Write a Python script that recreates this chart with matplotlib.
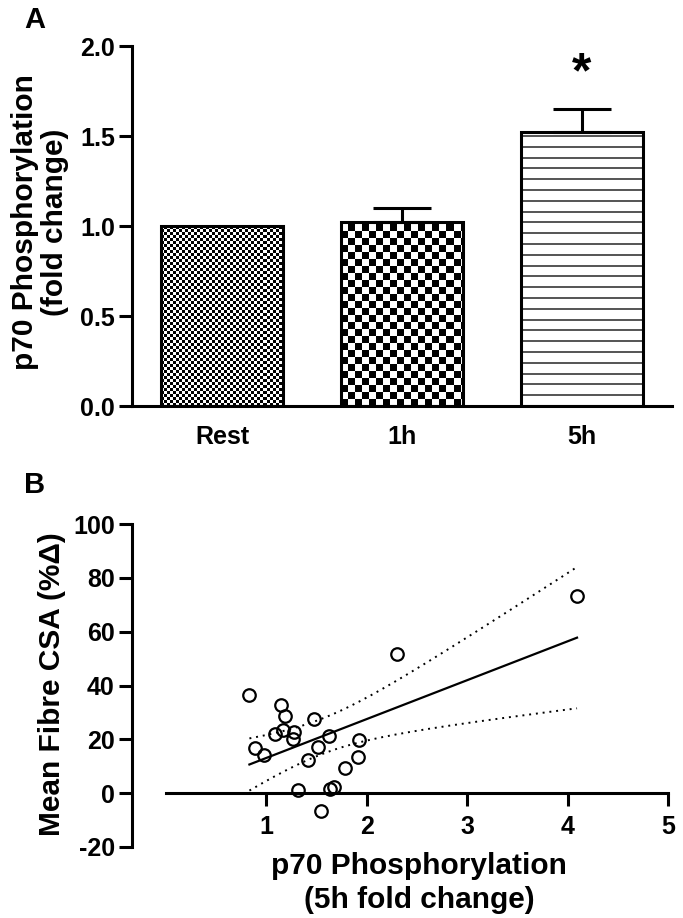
import numpy as np
import matplotlib
matplotlib.use('Agg')
import matplotlib.pyplot as plt

plt.rcParams['font.family'] = ['Liberation Sans', 'DejaVu Sans']
plt.rcParams['font.weight'] = 'bold'
plt.rcParams['axes.unicode_minus'] = False

# ---------------- Panel A data ----------------
groups = ['Rest', '1h', '5h']
fold_change = [1.00, 1.02, 1.52]
sem_upper = [0.0, 0.08, 0.13]
sig_marks = ['', '', '*']
a_yticks = [0.0, 0.5, 1.0, 1.5, 2.0]
a_ticklabels = ['0.0', '0.5', '1.0', '1.5', '2.0']

# ---------------- Panel B data ----------------
p70_5h = [0.83, 1.14, 1.18, 1.47, 1.08, 1.16, 1.27, 1.26, 1.62, 1.92, 0.89,
          0.98, 1.51, 1.41, 1.91, 1.78, 1.31, 1.63, 1.67, 1.54, 2.30, 4.09]
csa_change = [36.4, 32.7, 28.6, 27.5, 21.9, 23.4, 22.8, 20.0, 21.4, 19.6, 16.6,
              14.2, 17.2, 12.5, 13.6, 9.5, 1.1, 1.6, 2.3, -6.6, 51.8, 73.1]
b_xticks = [1, 2, 3, 4, 5]
b_yticks = [-20, 0, 20, 40, 60, 80, 100]

W, H = 683, 918
fig = plt.figure(figsize=(W / 100, H / 100), dpi=100)


def rect(l, r, t, b):
    return [l / W, 1 - b / H, (r - l) / W, (b - t) / H]


LW = 2.2
TICK_FS = 18
LABEL_FS = 21.5

# ================= Panel A =================
axA = fig.add_axes(rect(132, 672, 46, 406))
x = np.arange(len(groups))
bar_w = 0.68
bars = axA.bar(x, fold_change, width=bar_w, facecolor='none', edgecolor='black',
               linewidth=LW, zorder=3)

px_per_unit = 180.0  # both axes: 180 px per data unit


def checker(bar, cell_px):
    x0 = bar.get_x()
    w = bar.get_width()
    h = bar.get_height()
    cell = cell_px / px_per_unit
    nx = int(np.ceil(w / cell))
    ny = int(np.ceil(h / cell))
    arr = (np.add.outer(np.arange(ny), np.arange(nx)) % 2).astype(float)
    im = axA.imshow(arr, cmap='gray', vmin=0, vmax=1, origin='lower',
                    extent=(x0, x0 + nx * cell, 0, ny * cell), aspect='auto',
                    interpolation='nearest', zorder=2)
    im.set_clip_path(bar)


checker(bars[0], 3.0)
checker(bars[1], 7.0)

# horizontal stripes for 5h bar
b5 = bars[2]
stripe = 10.8 / px_per_unit
ys = np.arange(stripe, b5.get_height() - stripe * 0.3, stripe)
axA.hlines(ys, b5.get_x(), b5.get_x() + b5.get_width(), colors='0.15',
           linewidth=1.1, zorder=2)

# error bars (upper only)
for xi, yi, e in zip(x, fold_change, sem_upper):
    if e > 0:
        axA.errorbar(xi, yi, yerr=[[0], [e]], fmt='none', ecolor='black',
                     elinewidth=LW, capsize=21, capthick=LW, zorder=4)

for xi, yi, e, s in zip(x, fold_change, sem_upper, sig_marks):
    if s:
        axA.text(xi, yi + e + 0.19, s, ha='center', va='center', fontsize=36,
                 fontweight='bold')

axA.set_xlim(-0.5, 2.5)
axA.set_ylim(0, 2.0)
axA.set_yticks(a_yticks)
axA.set_yticklabels(a_ticklabels)
axA.set_xticks(x)
axA.set_xticklabels(groups)
for sp in ['top', 'right']:
    axA.spines[sp].set_visible(False)
for sp in ['left', 'bottom']:
    axA.spines[sp].set_linewidth(LW)
axA.tick_params(axis='y', direction='out', length=9.4, width=LW, labelsize=TICK_FS, pad=3)
axA.tick_params(axis='x', length=0, labelsize=TICK_FS, pad=14)
axA.patch.set_visible(False)

fig.text(40 / W, 1 - 222 / H, 'p70 Phosphorylation\n(fold change)', rotation=90,
         ha='center', va='center', fontsize=LABEL_FS, fontweight='bold',
         multialignment='center', linespacing=1.1)
fig.text(35 / W, 1 - 20 / H, 'A', ha='center', va='center', fontsize=21,
         fontweight='bold')

# ================= Panel B =================
axB = fig.add_axes(rect(132, 672, 524, 847))
px_b = np.array(p70_5h)
py_b = np.array(csa_change)
n = len(px_b)
slope, intercept = np.polyfit(px_b, py_b, 1)
xf = np.linspace(px_b.min(), px_b.max(), 200)
yf = intercept + slope * xf
resid = py_b - (intercept + slope * px_b)
s = np.sqrt(np.sum(resid ** 2) / (n - 2))
sxx = np.sum((px_b - px_b.mean()) ** 2)
t_crit = 2.086  # t(0.975, df=20)
half = t_crit * s * np.sqrt(1 / n + (xf - px_b.mean()) ** 2 / sxx)

axB.plot(xf, yf, color='black', linewidth=1.6, zorder=3)
axB.plot(xf, yf + half, color='black', linewidth=1.4, linestyle=(0, (1, 2.5)), zorder=3)
axB.plot(xf, yf - half, color='black', linewidth=1.4, linestyle=(0, (1, 2.5)), zorder=3)
axB.plot(px_b, py_b, 'o', markerfacecolor='none', markeredgecolor='black',
         markersize=9, markeredgewidth=1.6, zorder=4, clip_on=False)

axB.set_xlim(-34 / 100.5, 5.035)
axB.set_ylim(-20, 100)
axB.set_xticks(b_xticks)
axB.set_yticks(b_yticks)
for sp in ['top', 'right']:
    axB.spines[sp].set_visible(False)
axB.spines['bottom'].set_position(('data', 0))
axB.spines['bottom'].set_bounds(0, 5)
for sp in ['left', 'bottom']:
    axB.spines[sp].set_linewidth(LW)
axB.tick_params(axis='y', direction='out', length=9.4, width=LW, labelsize=TICK_FS, pad=3)
axB.tick_params(axis='x', direction='out', length=9.4, width=LW, labelsize=TICK_FS, pad=6)
axB.patch.set_visible(False)

fig.text(52 / W, 1 - 684 / H, 'Mean Fibre CSA (%Δ)', rotation=90, ha='center',
         va='center', fontsize=LABEL_FS, fontweight='bold')
fig.text(419 / W, 1 - 883 / H, 'p70 Phosphorylation\n(5h fold change)', ha='center',
         va='center', fontsize=LABEL_FS, fontweight='bold', multialignment='center',
         linespacing=1.25)
fig.text(35 / W, 1 - 485 / H, 'B', ha='center', va='center', fontsize=21,
         fontweight='bold')

fig.savefig('out.png', dpi=100, facecolor='white')
